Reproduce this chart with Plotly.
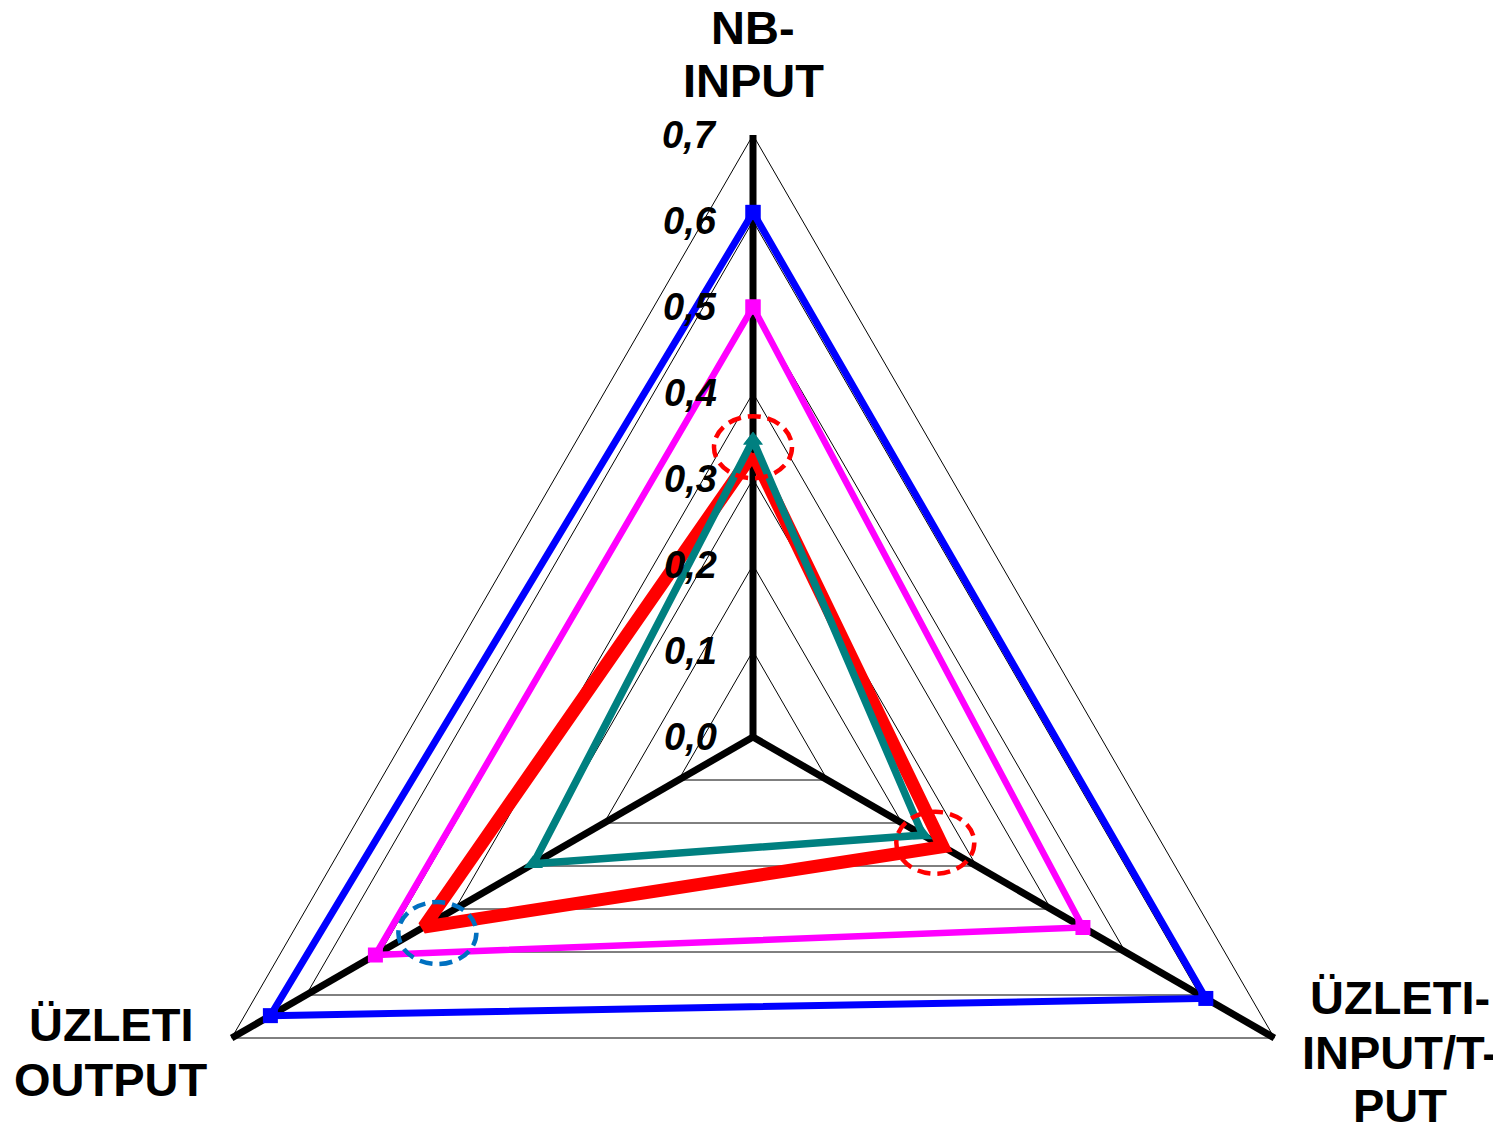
import math
import plotly.graph_objects as go

# axes of the radar, clockwise from the top
categories = ["NB-INPUT", "ÜZLETI-INPUT/T-PUT", "ÜZLETI OUTPUT"]
axis_labels = [["NB-", "INPUT"], ["ÜZLETI-", "INPUT/T-", "PUT"], ["ÜZLETI", "OUTPUT"]]

tick_values = [0.0, 0.1, 0.2, 0.3, 0.4, 0.5, 0.6, 0.7]
tick_labels = ["0,0", "0,1", "0,2", "0,3", "0,4", "0,5", "0,6", "0,7"]

blue_vals = [0.61, 0.608, 0.648]
magenta_vals = [0.50, 0.443, 0.507]
red_vals = [0.33, 0.255, 0.442]
teal_vals = [0.345, 0.228, 0.295]

# the page puts the plot 8px in from the top-left corner
OFF = 8
W, H = 1501 - OFF, 1131 - OFF
CX, CY = 753 - OFF, 737 - OFF   # pixel position of the centre inside the figure
SCALE = 860                     # pixels per 1.0 on the radial scale
R_MAX = 0.7


def to_xy(values):
    # close the polygon and turn (axis, r) into x/y
    xs, ys = [], []
    n = len(values)
    for i in list(range(n)) + [0]:
        a = math.radians(360 / n * i)
        xs.append(values[i] * math.sin(a))
        ys.append(values[i] * math.cos(a))
    return xs, ys


def px(x, y):
    # screen pixel -> paper fraction
    return (x - OFF) / W, 1 - (y - OFF) / H


fig = go.Figure()

# grid triangles
for v in tick_values[1:]:
    gx, gy = to_xy([v] * len(categories))
    fig.add_trace(go.Scatter(x=gx, y=gy, mode="lines",
                             line=dict(color="black", width=1),
                             hoverinfo="skip", showlegend=False))

# spokes
for i in range(len(categories)):
    a = math.radians(360 / len(categories) * i)
    fig.add_trace(go.Scatter(x=[0, R_MAX * math.sin(a)], y=[0, R_MAX * math.cos(a)],
                             mode="lines", line=dict(color="black", width=7),
                             hoverinfo="skip", showlegend=False))

series = [
    (blue_vals, "#0000FF", 7, "square", 15),
    (magenta_vals, "#FF00FF", 6.5, "square", 15),
    (red_vals, "#FF0000", 13, None, 0),
    (teal_vals, "#008080", 7.5, "triangle-up", 17),
]
for vals, col, lw, sym, ms in series:
    sx, sy = to_xy(vals)
    if sym:
        fig.add_trace(go.Scatter(x=sx, y=sy, mode="lines+markers",
                                 line=dict(color=col, width=lw),
                                 marker=dict(symbol=sym, size=ms, color=col),
                                 showlegend=False))
    else:
        fig.add_trace(go.Scatter(x=sx, y=sy, mode="lines",
                                 line=dict(color=col, width=lw),
                                 showlegend=False))

# dashed highlight ellipses
ellipses = [((0.0, 0.337), "#FF0000"), ((0.212, -0.123), "#FF0000"), ((-0.367, -0.228), "#0070C0")]
rx, ry = 39 / SCALE, 31 / SCALE
for (ex, ey), col in ellipses:
    fig.add_shape(type="circle", xref="x", yref="y",
                  x0=ex - rx, x1=ex + rx, y0=ey - ry, y1=ey + ry,
                  line=dict(color=col, width=4.5, dash="13px,7px"))

# radial tick labels
for v, t in zip(tick_values, tick_labels):
    fig.add_annotation(x=0, y=v, text="<b><i>" + t + "</i></b>", showarrow=False,
                       xanchor="right", yanchor="middle", xshift=-34,
                       font=dict(family="Arial, Liberation Sans", size=38, color="black"))

# axis titles, one annotation per line
label_pos = [(753, [28, 80]), (1400, [997, 1052, 1105]), (111, [1024, 1079])]
for lines, (lx, lys) in zip(axis_labels, label_pos):
    for line, ly in zip(lines, lys):
        ax_, ay_ = px(lx, ly)
        fig.add_annotation(x=ax_, y=ay_, xref="paper", yref="paper", text="<b>" + line + "</b>",
                           showarrow=False, xanchor="center", yanchor="middle", borderpad=0,
                           font=dict(family="Arial, Liberation Sans", size=47, color="black"))

fig.update_layout(
    width=W, height=H, autosize=False,
    margin=dict(l=0, r=0, t=0, b=0),
    plot_bgcolor="white", paper_bgcolor="white",
    xaxis=dict(range=[-CX / SCALE, (W - CX) / SCALE], visible=False, fixedrange=True),
    yaxis=dict(range=[-(H - CY) / SCALE, CY / SCALE], visible=False, fixedrange=True),
)

fig.write_html("out.html")
